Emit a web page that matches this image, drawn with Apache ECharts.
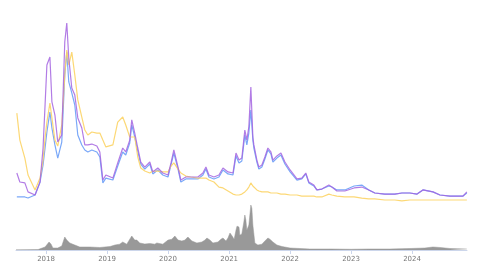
<!DOCTYPE html>
<html>
<head>
<meta charset="utf-8">
<script src="https://cdn.jsdelivr.net/npm/echarts@6/dist/echarts.min.js"></script>
<style>
  html, body { margin: 0; padding: 0; background: #fff; }
  #chart { width: 480px; height: 270px; }
</style>
</head>
<body>
<div id="chart"></div>
<script>
// dates shared by the three price lines
var dates = ['2017-07-10','2017-07-28','2017-08-27','2017-09-15','2017-10-27','2017-11-26','2017-12-14','2017-12-26','2018-01-06','2018-01-24',
  '2018-02-05','2018-02-23','2018-03-12','2018-04-05','2018-04-23','2018-05-05','2018-05-17','2018-06-04','2018-06-22','2018-07-10',
  '2018-08-03','2018-08-21','2018-09-08','2018-10-02','2018-11-01','2018-11-19','2018-12-07','2018-12-25','2019-02-05','2019-03-06',
  '2019-04-05','2019-04-23','2019-05-17','2019-05-29','2019-06-16','2019-07-04','2019-07-22','2019-08-15','2019-09-14','2019-10-02',
  '2019-11-01','2019-12-01','2020-01-01','2020-01-19','2020-02-05','2020-03-01','2020-03-18','2020-04-17','2020-05-17','2020-06-28',
  '2020-07-28','2020-08-15','2020-09-02','2020-10-02','2020-11-01','2020-11-25','2020-12-25','2021-01-24','2021-02-11','2021-03-01',
  '2021-03-18','2021-04-05','2021-04-17','2021-04-29','2021-05-11','2021-05-23','2021-05-29','2021-06-16','2021-06-28','2021-07-16',
  '2021-08-03','2021-08-21','2021-09-08','2021-09-20','2021-10-14','2021-11-07','2021-12-01','2022-01-01','2022-02-11','2022-03-12',
  '2022-04-05','2022-04-23','2022-05-23','2022-06-10','2022-07-10','2022-08-21','2022-09-08','2022-10-08','2022-11-25','2023-01-19',
  '2023-03-06','2023-04-17','2023-05-23','2023-07-22','2023-09-20','2023-11-01','2023-12-19','2024-01-31','2024-03-06','2024-05-05',
  '2024-06-16','2024-08-15','2024-11-01','2024-11-24']

var purple = [16.1,11.1,10.6,5.6,3.9,11.1,30.0,53.9,76.1,80.6,
  55.6,48.3,33.3,37.2,88.9,99.4,80.0,63.3,59.4,46.7,
  41.1,31.7,31.7,32.2,31.1,27.8,12.2,15.0,13.3,21.7,
  30.0,27.8,34.4,45.6,38.3,30.0,22.2,19.4,22.2,16.7,
  18.9,16.1,15.0,21.7,28.9,19.4,12.2,13.9,13.9,13.9,
  16.1,19.4,15.0,13.9,15.0,18.9,16.7,16.1,27.2,23.3,
  24.4,40.0,34.4,41.7,63.9,36.1,31.7,23.3,19.4,20.6,
  25.0,30.0,27.8,23.3,25.6,27.2,22.2,17.8,12.8,13.3,
  16.1,11.1,9.4,6.7,7.2,9.4,8.3,6.1,6.1,7.8,
  8.3,6.7,5.0,4.4,4.4,5.0,5.0,4.4,6.7,5.6,
  3.9,3.3,3.3,5.6]

var blue = [2.8,2.8,2.8,2.2,3.9,11.1,20.6,30.0,38.9,50.0,
  41.1,31.7,24.4,33.3,70.6,83.3,66.7,60.6,53.9,37.2,
  31.7,28.9,27.8,28.9,27.8,25.0,10.6,13.3,12.2,20.0,
  27.8,26.1,32.8,42.8,36.1,28.3,21.1,18.3,21.1,15.6,
  17.8,15.0,13.9,20.6,27.2,18.3,11.1,12.8,12.8,12.8,
  15.0,18.3,13.9,12.8,13.9,17.8,15.6,15.0,25.6,21.7,
  22.8,37.2,31.7,38.3,51.1,34.4,30.0,22.2,18.3,19.4,
  23.9,28.9,26.7,22.2,24.4,26.1,21.1,16.7,12.2,12.8,
  15.6,10.6,8.9,6.7,7.2,8.9,8.3,6.7,6.7,8.9,
  9.4,6.7,5.0,4.4,4.4,5.0,5.0,4.4,6.7,5.6,
  3.9,3.3,3.3,5.0]

var yellow = [49.4,34.4,24.4,15.0,6.7,13.3,23.3,35.6,44.4,55.0,
  46.7,34.4,31.1,42.8,70.6,84.4,76.1,83.3,70.6,56.7,
  47.2,40.0,37.2,38.9,38.3,38.3,34.4,30.6,31.7,44.4,
  47.2,42.8,36.1,36.1,36.1,25.0,18.9,17.2,16.1,17.2,
  17.2,16.7,16.7,20.0,21.7,18.3,16.1,14.4,13.9,13.3,
  13.3,13.3,12.2,11.1,8.3,7.8,6.1,4.4,3.9,3.9,
  4.4,5.6,6.7,8.3,10.6,8.9,7.8,6.7,6.1,5.6,
  5.6,5.6,5.0,5.0,5.0,4.4,4.4,3.9,3.9,3.3,
  3.3,3.3,3.3,2.8,2.8,4.4,3.9,3.3,2.8,2.8,
  2.2,1.7,1.7,1.1,1.1,0.6,1.1,1.1,1.1,1.1,
  1.1,1.1,1.1,1.1]

// volume (bottom area)
var volDates = ['2017-07-05','2017-11-14','2017-12-26','2018-01-19','2018-01-31','2018-02-11','2018-03-12','2018-04-05','2018-04-23','2018-05-05',
  '2018-05-23','2018-06-22','2018-07-22','2018-09-20','2018-11-19','2019-01-19','2019-02-17','2019-03-18','2019-04-05','2019-04-29',
  '2019-05-29','2019-06-16','2019-06-28','2019-07-16','2019-08-15','2019-09-14','2019-10-14','2019-10-26','2019-12-01','2020-01-01',
  '2020-01-24','2020-02-11','2020-03-01','2020-03-24','2020-04-11','2020-04-29','2020-05-23','2020-06-22','2020-07-22','2020-08-09',
  '2020-08-21','2020-09-08','2020-09-26','2020-10-26','2020-11-13','2020-11-25','2020-12-13','2020-12-25','2021-01-06','2021-01-19',
  '2021-01-31','2021-02-11','2021-02-17','2021-03-01','2021-03-06','2021-03-18','2021-03-30','2021-04-05','2021-04-11','2021-04-17',
  '2021-04-29','2021-05-11','2021-05-17','2021-05-23','2021-06-04','2021-06-22','2021-07-16','2021-08-03','2021-08-21','2021-09-02',
  '2021-09-20','2021-10-14','2021-11-13','2022-01-01','2022-03-01','2022-04-29','2022-08-27','2023-01-01','2023-04-23','2023-08-21',
  '2023-12-19','2024-03-18','2024-05-05','2024-06-16','2024-08-15','2024-11-24']
var volume = [0.3,1,6.7,17.8,13,4.4,4.4,8.9,28.9,22,
  15.6,11,6.7,6.7,5.6,7.8,11,13,17.8,13,
  31.1,22,22,15.6,13.3,14.4,13,15.6,13,22,
  24,31,22,20,22,28.9,20,15.6,17.8,22,
  26.7,22,15.6,17.8,24,26.7,20,26.7,37.8,31,
  24,44,53,51,33,35.6,62,77.8,67,44,
  55.6,100,93,55.6,15.6,11,13,20,26.7,24,
  17.8,11,7.8,4.4,3.3,2.2,2.2,1.6,2.2,2.2,
  3.3,4.4,6.7,5.6,3.3,2.2]

var xMin = '2017-07-05'
var xMax = '2024-11-25'
var yearMs = 365 * 24 * 3600 * 1000

function pairs(xs, ys) {
  return xs.map(function (d, i) { return [d, ys[i]] })
}

var myChart = echarts.init(document.getElementById('chart'))
var option = {
  animation: false,
  grid: [
    { left: 16, right: 13, top: 22, height: 180 },
    { left: 16, right: 13, top: 205, height: 45 }
  ],
  xAxis: [
    {
      type: 'time', gridIndex: 0, min: xMin, max: xMax,
      show: false
    },
    {
      type: 'time', gridIndex: 1, min: xMin, max: xMax,
      minInterval: yearMs, maxInterval: yearMs * 1.01,
      axisLine: { lineStyle: { color: '#ccd6eb' } },
      axisTick: { show: true, length: 4, lineStyle: { color: '#ccd6eb' } },
      splitLine: { show: false },
      axisLabel: {
        fontSize: 7,
        color: '#777',
        margin: 6,
        fontFamily: 'DejaVu Sans',
        formatter: function (v) { return String(new Date(v).getFullYear()) }
      }
    }
  ],
  yAxis: [
    { type: 'value', gridIndex: 0, min: 0, max: 100, show: false },
    { type: 'value', gridIndex: 1, min: 0, max: 100, show: false }
  ],
  series: [
    {
      name: 'blue', type: 'line', data: pairs(dates, blue),
      showSymbol: false, lineStyle: { width: 1.2, color: '#6b9ef7', opacity: 0.9 }
    },
    {
      name: 'yellow', type: 'line', data: pairs(dates, yellow),
      showSymbol: false, lineStyle: { width: 1.2, color: '#fcd466', opacity: 0.9 }
    },
    {
      name: 'purple', type: 'line', data: pairs(dates, purple),
      showSymbol: false, lineStyle: { width: 1.2, color: '#a565e0', opacity: 0.85 }
    },
    {
      name: 'volume', type: 'line', xAxisIndex: 1, yAxisIndex: 1,
      data: pairs(volDates, volume),
      showSymbol: false,
      lineStyle: { width: 0.5, color: '#999' },
      areaStyle: { color: '#999', opacity: 1 }
    }
  ]
}
myChart.setOption(option)
</script>
</body>
</html>
